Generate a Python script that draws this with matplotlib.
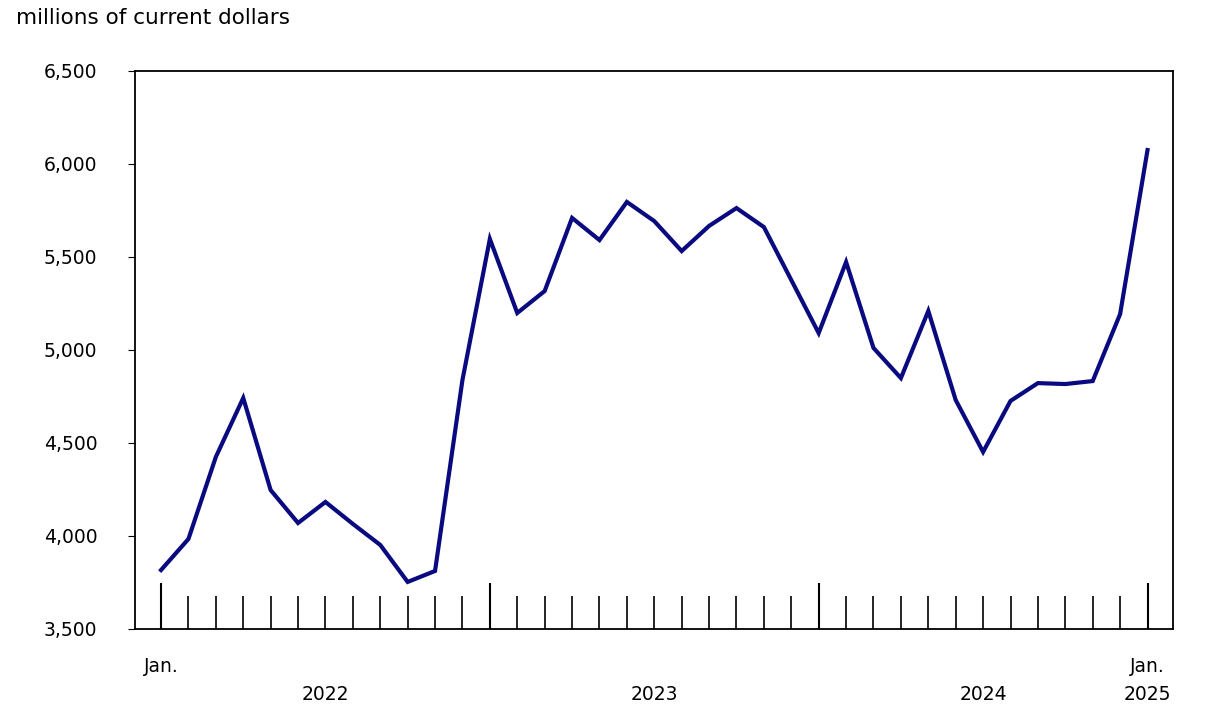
import matplotlib
matplotlib.use("Agg")
import matplotlib.pyplot as plt
from matplotlib.ticker import FuncFormatter

values = [3817, 3984, 4425, 4742, 4247, 4070, 4183, 4065, 3952, 3753, 3812, 4839,
          5597, 5199, 5317, 5710, 5591, 5796, 5693, 5532, 5667, 5763, 5661, 5376,
          5091, 5473, 5011, 4849, 5210, 4731, 4452, 4726, 4822, 4817, 4833, 5193,
          6075]
yticks = [3500, 4000, 4500, 5000, 5500, 6000, 6500]
year_labels = ["2022", "2023", "2024"]

fig = plt.figure(figsize=(12.09, 7.2), dpi=100)
ax = fig.add_axes([135/1209, 1-629/720, (1173-135)/1209, (629-71)/720])
x = list(range(len(values)))
ax.plot(x, values, color="#0a0a80", lw=3, solid_joinstyle="miter")
ax.set_xlim(-0.95, 36.93)
ax.set_ylim(3500, 6500)
ax.set_yticks(yticks)
ax.yaxis.set_major_formatter(FuncFormatter(lambda v, p: f"{int(v):,}"))
ax.tick_params(axis="y", labelsize=13.5, length=5, direction="out", pad=22)
ax.set_xticks([0, 12, 24, 36])
ax.set_xticks([i for i in x if i % 12], minor=True)
ax.set_xticklabels([])
ax.tick_params(axis="x", which="major", direction="in", length=33, width=1.5)
ax.tick_params(axis="x", which="minor", direction="in", length=24, width=1.2)
for s in ax.spines.values():
    s.set_linewidth(1.3)
tr = ax.get_xaxis_transform()
ax.text(0, -0.05, "Jan.", transform=tr, ha="center", va="top", fontsize=13.5)
ax.text(36, -0.05, "Jan.", transform=tr, ha="center", va="top", fontsize=13.5)
for i, lab in enumerate(year_labels):
    cx = 6 + 12*i if i < 2 else 30
    ax.text(cx, -0.10, lab, transform=tr, ha="center", va="top", fontsize=13.5)
ax.text(36, -0.10, "2025", transform=tr, ha="center", va="top", fontsize=13.5)
fig.text(16/1209, 1-18/720, "millions of current dollars", ha="left", va="center", fontsize=15.5)
fig.savefig("out.png", dpi=100)
